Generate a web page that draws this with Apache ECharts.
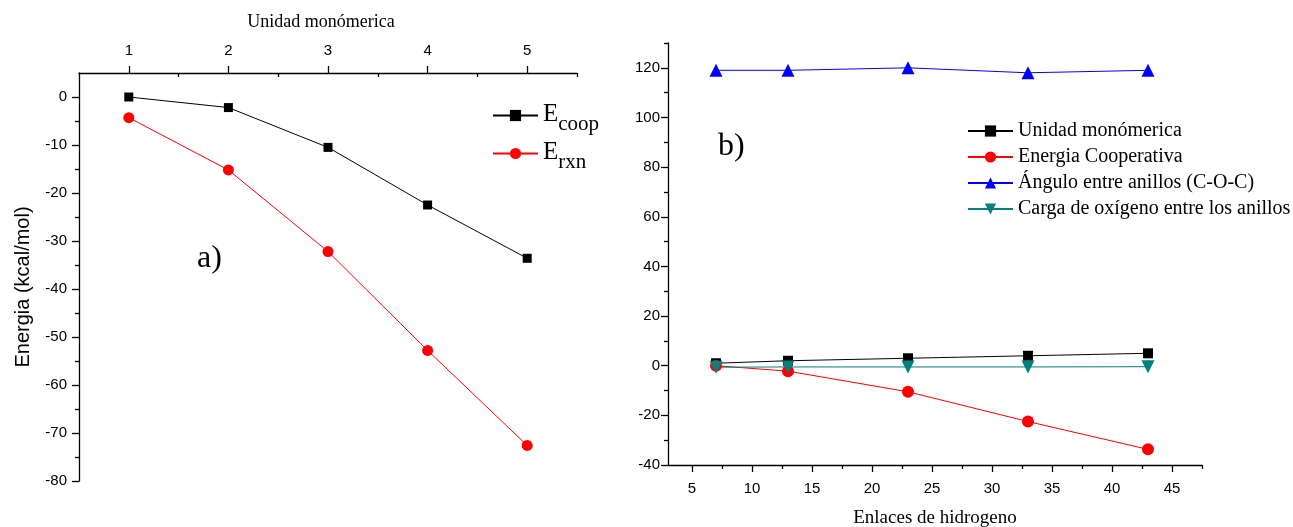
<!DOCTYPE html>
<html>
<head>
<meta charset="utf-8">
<script src="https://cdn.jsdelivr.net/npm/echarts@6/dist/echarts.min.js"></script>
<style>
  html, body { margin: 0; padding: 0; background: #fff; }
  #chart { width: 1293px; height: 527px; }
</style>
</head>
<body>
<div id="chart"></div>
<script>
// panel a) energia vs unidad monomerica
var unidades = [1, 2, 3, 4, 5]
var eCoop = [0, -2.2, -10.5, -22.5, -33.6]
var eRxn = [-4.3, -15.2, -32.2, -52.8, -72.6]

// panel b) vs enlaces de hidrogeno
var enlaces = [7, 13, 23, 33, 43]
var unidadMono = [1, 2, 3, 4, 5]
var energiaCoop = [0, -2.2, -10.5, -22.5, -33.7]
var angulo = [119, 119, 120, 118, 119]
var cargaOxigeno = [-0.6, -0.5, -0.5, -0.5, -0.4]

// tick labels
var aXTicks = [1, 2, 3, 4, 5]
var aXMinor = [1.5, 2.5, 3.5, 4.5, 5.5]
var aYTicks = [-80, -70, -60, -50, -40, -30, -20, -10, 0]
var aYMinor = [-75, -65, -55, -45, -35, -25, -15, -5]
var bXTicks = [5, 10, 15, 20, 25, 30, 35, 40, 45]
var bXMinor = [7.5, 12.5, 17.5, 22.5, 27.5, 32.5, 37.5, 42.5, 47.5]
var bYTicks = [-40, -20, 0, 20, 40, 60, 80, 100, 120]
var bYMinor = [-30, -10, 10, 30, 50, 70, 90, 110, 130]

var SANS = 'Liberation Sans'
var SERIF = 'Liberation Serif'

function pairs (xs, ys) {
  return xs.map(function (x, i) { return [x, ys[i]] })
}

function majorAxis (gridIndex, position, min, max, ticks, margin) {
  return {
    type: 'value', gridIndex: gridIndex, position: position, min: min, max: max,
    axisLine: { show: true, onZero: false, lineStyle: { color: '#000', width: 1.3 } },
    axisTick: { show: true, length: 7, customValues: ticks, lineStyle: { color: '#000', width: 1.3 } },
    axisLabel: { customValues: ticks, color: '#000', fontFamily: SANS, fontSize: 15, margin: margin },
    splitLine: { show: false }
  }
}

function minorAxis (gridIndex, position, min, max, ticks, inside) {
  return {
    type: 'value', gridIndex: gridIndex, position: position, min: min, max: max,
    axisLine: { show: false, onZero: false },
    axisTick: { show: true, inside: inside, length: 4, customValues: ticks, lineStyle: { color: '#000', width: 1.3 } },
    axisLabel: { show: false },
    splitLine: { show: false }
  }
}

var xA = majorAxis(0, 'top', 0.5, 5.5, aXTicks, 15)
xA.name = 'Unidad monómerica'
xA.nameLocation = 'middle'
xA.nameGap = 42
xA.nameTextStyle = { fontFamily: SERIF, fontSize: 18, color: '#000', padding: [0, 14, 0, 0] }

var yA = majorAxis(0, 'left', -80, 5, aYTicks, 12)
yA.name = 'Energia (kcal/mol)'
yA.nameLocation = 'middle'
yA.nameGap = 46
yA.nameTextStyle = { fontFamily: SANS, fontSize: 20, color: '#000', padding: [0, 20, 0, 0] }

var xB = majorAxis(1, 'bottom', 3, 47.5, bXTicks, 16)
xB.name = 'Enlaces de hidrogeno'
xB.nameLocation = 'middle'
xB.nameGap = 44
xB.nameTextStyle = { fontFamily: SERIF, fontSize: 19, color: '#000' }

var yB = majorAxis(1, 'left', -40, 130, bYTicks, 8)

var sub = {
  e: { fontFamily: SERIF, fontSize: 25, color: '#000', verticalAlign: 'top', lineHeight: 27 },
  s: { fontFamily: SERIF, fontSize: 21, color: '#000', verticalAlign: 'top', lineHeight: 21, padding: [12, 0, 0, 0] }
}

var option = {
  animation: false,
  backgroundColor: '#fff',
  grid: [
    { left: 79, top: 73, width: 498, height: 408, outerBoundsMode: 'none' },
    { left: 668, top: 43, width: 534, height: 422, outerBoundsMode: 'none' }
  ],
  xAxis: [xA, minorAxis(0, 'top', 0.5, 5.5, aXMinor, true), xB, minorAxis(1, 'bottom', 3, 47.5, bXMinor, false)],
  yAxis: [yA, minorAxis(0, 'left', -80, 5, aYMinor, false), yB, minorAxis(1, 'left', -40, 130, bYMinor, false)],
  legend: [
    {
      data: ['Ecoop', 'Erxn'],
      orient: 'vertical', left: 487, top: 97,
      itemWidth: 45, itemHeight: 14, itemGap: 5,
      formatter: function (name) {
        return name === 'Ecoop' ? '{e|E}{s|coop}' : '{e|E}{s|rxn}'
      },
      textStyle: { rich: sub }
    },
    {
      data: ['Unidad monómerica', 'Energia Cooperativa', 'Ángulo entre anillos (C-O-C)', 'Carga de oxígeno entre los anillos'],
      orient: 'vertical', left: 962, top: 116,
      itemWidth: 45, itemHeight: 14, itemGap: 6,
      textStyle: { fontFamily: SERIF, fontSize: 20, color: '#000' }
    }
  ],
  graphic: [
    { type: 'text', left: 197, top: 243, style: { text: 'a)', font: '32px "Liberation Serif"', fill: '#000' } },
    { type: 'text', left: 718, top: 131, style: { text: 'b)', font: '32px "Liberation Serif"', fill: '#000' } }
  ],
  series: [
    {
      name: 'Ecoop', type: 'line', xAxisIndex: 0, yAxisIndex: 0,
      data: pairs(unidades, eCoop),
      symbol: 'rect', symbolSize: 9,
      itemStyle: { color: '#000' }, lineStyle: { color: '#000', width: 1 }
    },
    {
      name: 'Erxn', type: 'line', xAxisIndex: 0, yAxisIndex: 0,
      data: pairs(unidades, eRxn),
      symbol: 'circle', symbolSize: 11,
      itemStyle: { color: '#ff0000' }, lineStyle: { color: '#ff0000', width: 1 }
    },
    {
      name: 'Unidad monómerica', type: 'line', xAxisIndex: 2, yAxisIndex: 2,
      data: pairs(enlaces, unidadMono),
      symbol: 'rect', symbolSize: 10,
      itemStyle: { color: '#000' }, lineStyle: { color: '#000', width: 1 }
    },
    {
      name: 'Energia Cooperativa', type: 'line', xAxisIndex: 2, yAxisIndex: 2,
      data: pairs(enlaces, energiaCoop),
      symbol: 'circle', symbolSize: 12,
      itemStyle: { color: '#ff0000' }, lineStyle: { color: '#ff0000', width: 1 }
    },
    {
      name: 'Ángulo entre anillos (C-O-C)', type: 'line', xAxisIndex: 2, yAxisIndex: 2,
      data: pairs(enlaces, angulo),
      symbol: 'triangle', symbolSize: 13,
      itemStyle: { color: '#0000ff' }, lineStyle: { color: '#0000ff', width: 1 }
    },
    {
      name: 'Carga de oxígeno entre los anillos', type: 'line', xAxisIndex: 2, yAxisIndex: 2,
      data: pairs(enlaces, cargaOxigeno),
      symbol: 'triangle', symbolRotate: 180, symbolSize: 13,
      itemStyle: { color: '#008080' }, lineStyle: { color: '#008080', width: 1 }
    }
  ]
}

var myChart = echarts.init(document.getElementById('chart'))
myChart.setOption(option)
</script>
</body>
</html>
